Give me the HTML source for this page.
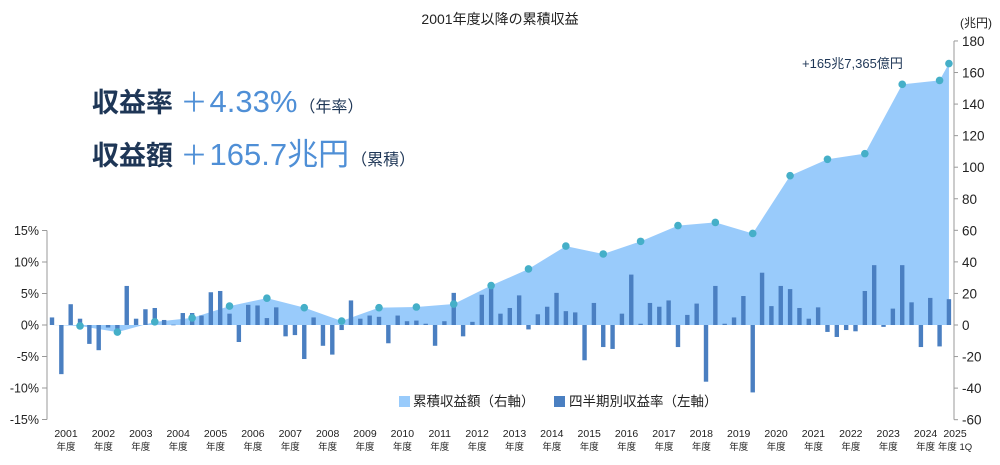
<!DOCTYPE html>
<html><head><meta charset="utf-8">
<style>
body{margin:0;background:#fff;font-family:"Liberation Sans","Noto Sans CJK JP",sans-serif;}
svg text{font-family:"Liberation Sans","Noto Sans CJK JP",sans-serif;}
</style></head>
<body>
<svg width="1000" height="460" viewBox="0 0 1000 460">
<text x="500" y="24" text-anchor="middle" font-size="14" fill="#222">2001年度以降の累積収益</text>
<g>
<text x="92" y="112" font-size="27" font-weight="bold" fill="#1e3656">収益率 <tspan fill="#4f8fd6" font-weight="normal">＋</tspan><tspan fill="#4f8fd6" font-size="31" font-weight="normal" dx="2">4.33%</tspan><tspan font-size="16" font-weight="normal" dx="2">（年率）</tspan></text>
<text x="92" y="165" font-size="27" font-weight="bold" fill="#1e3656">収益額 <tspan fill="#4f8fd6" font-weight="normal">＋</tspan><tspan fill="#4f8fd6" font-size="31" font-weight="normal" dx="2">165.7兆円</tspan><tspan font-size="16" font-weight="normal" dx="2">（累積）</tspan></text>
</g>
<g id="plot"></g>
<text x="802" y="68" font-size="13" fill="#1e3656">+165兆7,365億円</text>
<text x="960" y="27" font-size="12" fill="#222">(兆円)</text>
<g>
<rect x="399" y="396" width="11" height="11" fill="#99cbfb"/>
<text x="413" y="406" font-size="13.5" fill="#222">累積収益額（右軸）</text>
<rect x="554" y="396" width="11" height="11" fill="#4a7fc1"/>
<text x="569" y="406" font-size="13.5" fill="#222">四半期別収益率（左軸）</text>
</g>
</svg>
<script>
const quarterlyReturns=[1.2,-7.8,3.3,1.0, -3.0,-4.0,-0.4,-0.6, 6.2,1.0,2.5,2.7, 0.8,0.05,1.9,1.9, 1.5,5.2,5.4,1.8, -2.7,3.2,3.1,1.1, 2.8,-1.8,-1.6,-5.4, 1.2,-3.3,-4.7,-0.8, 3.9,1.0,1.5,1.3, -2.9,1.5,0.6,0.7, 0.2,-3.3,0.6,5.1, -1.8,0.5,4.8,5.9, 1.8,2.7,4.7,-0.7, 1.7,2.9,5.1,2.2, 2.0,-5.6,3.5,-3.5, -3.8,1.8,8.0,0.2, 3.5,2.9,3.9,-3.5, 1.6,3.4,-9.0,6.2, 0.2,1.2,4.6,-10.7, 8.3,3.0,6.2,5.7, 2.7,1.0,2.8,-1.1, -1.9,-0.8,-1.0,5.4, 9.5,-0.3,2.6,9.5, 3.6,-3.5,4.3,-3.4, 4.1];
const cumulativeQuarterIdx=[3,7,11,15,19,23,27,31,35,39,43,47,51,55,59,63,67,71,75,79,83,87,91,95,96];
const cumulativeValues=[-0.6,-4.5,2,4.5,12,17,11,2.5,11,11.4,13.3,25,35.5,50,45,53,63,65,58,94.6,105,108.6,152.5,155,165.7];
const yearLabels=["2001","2002","2003","2004","2005","2006","2007","2008","2009","2010","2011","2012","2013","2014","2015","2016","2017","2018","2019","2020","2021","2022","2023","2024"];
const leftTicks=[15,10,5,0,-5,-10,-15];
const rightTicks=[180,160,140,120,100,80,60,40,20,0,-20,-40,-60];
const NS="http://www.w3.org/2000/svg";
const g=document.getElementById('plot');
const xq=i=>52+i*9.343;
const yL=v=>325-v*6.3;
const yR=v=>325-v*1.578;
function mk(t,a){const e=document.createElementNS(NS,t);for(const k in a)e.setAttribute(k,a[k]);g.appendChild(e);return e;}
let pts=[[xq(0),yR(0)]];
cumulativeQuarterIdx.forEach((q,i)=>pts.push([xq(q),yR(cumulativeValues[i])]));
pts.push([xq(96),yR(0)]);
const area=mk('polygon',{points:pts.map(p=>p.join(',')).join(' '),fill:'#99cbfb'});


quarterlyReturns.forEach((v,i)=>{
 const y0=yL(0),y1=yL(v);
 const r=mk('rect',{x:xq(i)-2.2,y:Math.min(y0,y1),width:4.4,height:Math.max(0.6,Math.abs(y1-y0)),fill:'#4a7fc1'});
 
 
});
cumulativeQuarterIdx.forEach((q,i)=>{
 const c=mk('circle',{cx:xq(q),cy:yR(cumulativeValues[i]),r:3.8,fill:'#45afc8'});
 
 
});
const la=mk('line',{x1:47,y1:yL(15),x2:47,y2:yL(-15),stroke:'#999','stroke-width':1});


leftTicks.forEach(v=>{
 mk('line',{x1:42,x2:47,y1:yL(v),y2:yL(v),stroke:'#999'});
 const t=mk('text',{x:39,y:yL(v)+4.5,'text-anchor':'end','font-size':12.5,fill:'#222'});
 t.textContent=v+'%';
 
 
});
const ra=mk('line',{x1:954,y1:yR(180),x2:954,y2:yR(-60),stroke:'#999','stroke-width':1});


rightTicks.forEach(v=>{
 mk('line',{x1:954,x2:958,y1:yR(v),y2:yR(v),stroke:'#999'});
 const t=mk('text',{x:962,y:yR(v)+5,'font-size':13.5,fill:'#222'});
 t.textContent=v;
 
 
});
yearLabels.forEach((s,i)=>{
 const x=xq(i*4+1.5);
 const t=mk('text',{x:x,y:437,'text-anchor':'middle','font-size':10.5,fill:'#222'});
 t.textContent=s;
 
 
 const t2=mk('text',{x:x,y:450,'text-anchor':'middle','font-size':9.5,fill:'#222'});
 t2.textContent='年度';
 
 
});
const t5=mk('text',{x:955,y:437,'text-anchor':'middle','font-size':10.5,fill:'#222'});
t5.textContent='2025';


const t6=mk('text',{x:955,y:450,'text-anchor':'middle','font-size':9.5,fill:'#222'});
t6.textContent='年度 1Q';


</script>
</body></html>
